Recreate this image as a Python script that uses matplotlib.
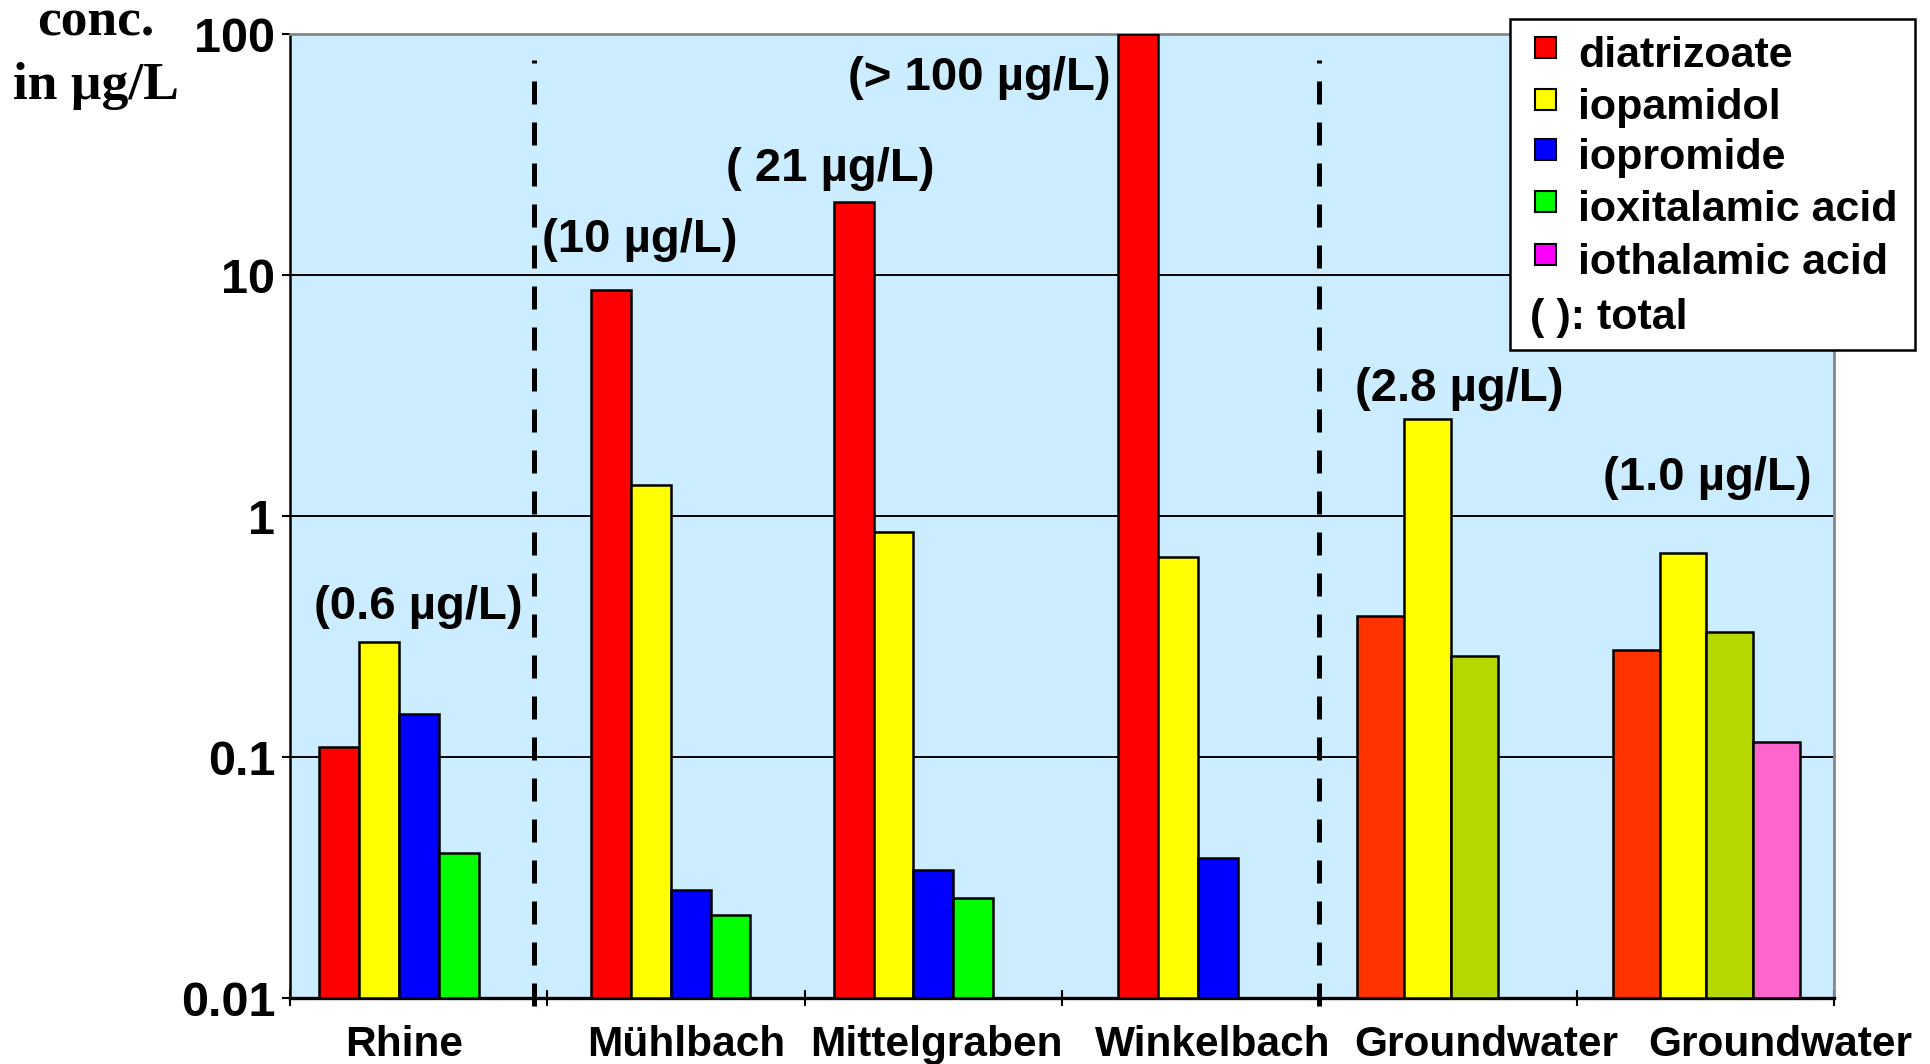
import numpy as np
import matplotlib
matplotlib.use("Agg")
import matplotlib.pyplot as plt
from matplotlib.patches import Rectangle

# Stellen (Kategorien) und Messwerte in µg/L, je Verbindung eine Liste
sites = ["Rhine", "Mühlbach", "Mittelgraben", "Winkelbach", "Groundwater", "Groundwater"]
compounds = ["diatrizoate", "iopamidol", "iopromide", "ioxitalamic acid", "iothalamic acid"]
diatrizoate = [0.11, 8.7, 20.0, 100.0, 0.385, 0.277]
iopamidol = [0.30, 1.35, 0.857, 0.678, 2.53, 0.70]
iopromide = [0.151, 0.028, 0.034, 0.038, np.nan, np.nan]
ioxitalamic = [0.040, 0.0221, 0.0261, np.nan, 0.262, 0.330]
iothalamic = [np.nan, np.nan, np.nan, np.nan, np.nan, 0.1156]
totals = ["(0.6 µg/L)", "(10 µg/L)", "( 21 µg/L)", "(> 100 µg/L)", "(2.8 µg/L)", "(1.0 µg/L)"]
is_groundwater = [False, False, False, False, True, True]

# Farben
surface_colors = ["#FF0000", "#FFFF00", "#0000FF", "#00FF00", "#FF00FF"]
ground_colors = ["#FF3300", "#FFFF00", "#0000FF", "#B5D900", "#FF66CC"]
BG = "#CCECFF"

# Layout (in Kategorie-Einheiten): Startversatz und Balkenbreite je Gruppe
group_offset = [0.113, 0.171, 0.113, 0.218, 0.146, 0.140]
group_width = [0.1555, 0.1545, 0.1545, 0.1555, 0.183, 0.182]
label_shift = [-0.057, 0.04, 0.01, 0.085, 0.15, 0.29]
total_pos = [(0.499, 0.419), (1.36, 13.97), (2.10, 27.5), (2.68, 66.0), (4.544, 3.37), (5.507, 1.44)]

BOLD = dict(family="Liberation Sans", fontweight="bold")

fig = plt.figure(figsize=(19.3, 10.64), dpi=100)
ax = fig.add_axes([0.1503, 0.062, 0.800, 0.906])
ax.set_facecolor(BG)
ax.set_yscale("log")
ax.set_ylim(0.01, 100)
ax.set_xlim(0, len(sites))

series = [diatrizoate, iopamidol, iopromide, ioxitalamic, iothalamic]

# Balken zeichnen, vorhandene Werte werden lückenlos nebeneinander gesetzt
for i in range(len(sites)):
    cols = ground_colors if is_groundwater[i] else surface_colors
    slot = 0
    for j, s in enumerate(series):
        v = s[i]
        if np.isnan(v):
            continue
        x = i + group_offset[i] + slot * group_width[i]
        ax.bar(x, v - 0.01, bottom=0.01, width=group_width[i], align="edge",
               color=cols[j], edgecolor="black", linewidth=1.8, zorder=3)
        slot += 1

# Gitterlinien
for g in [0.1, 1, 10]:
    ax.axhline(g, color="black", linewidth=1.4, zorder=1)

# gestrichelte Trennlinien
for xd in [0.948, 4.0]:
    ax.plot([xd, xd], [0.0093, 78], color="black", linewidth=3.6,
            dashes=(4.6, 3.6), zorder=4, clip_on=False)

# Achsen
ax.spines["left"].set_linewidth(1.8)
ax.spines["bottom"].set_linewidth(2.4)
ax.spines["top"].set_color("#888888")
ax.spines["right"].set_color("#888888")
ax.spines["top"].set_linewidth(2.0)
ax.spines["right"].set_linewidth(2.0)

ax.set_yticks([0.01, 0.1, 1, 10, 100])
ax.set_yticklabels(["0.01", "0.1", "1", "10", "100"])
ax.yaxis.set_minor_locator(matplotlib.ticker.NullLocator())
ax.tick_params(axis="y", length=6, width=1.5, pad=4.5, labelsize=35)
for t in ax.get_yticklabels():
    t.set_family("Liberation Sans")
    t.set_fontweight("bold")

ax.set_xticks(range(len(sites) + 1))
ax.set_xticklabels([])
ax.tick_params(axis="x", direction="inout", length=12, width=1.5)

# Kategoriebeschriftungen
for i, name in enumerate(sites):
    ax.text(i + 0.5 + label_shift[i], -0.049, name, transform=ax.get_xaxis_transform(),
            ha="center", va="center", fontsize=30.5, clip_on=False, **BOLD)

# Summenangaben
for (tx, ty), lab in zip(total_pos, totals):
    ax.text(tx, ty, lab, ha="center", va="center", fontsize=34, zorder=5, **BOLD)

# y-Achsentitel oben links
fig.text(0.0497, 1 - 22 / 1064, "conc.", ha="center", va="center", fontsize=38.5,
         family="Liberation Serif", fontweight="bold")
fig.text(0.0497, 1 - 86 / 1064, "in µg/L", ha="center", va="center", fontsize=38.5,
         family="Liberation Serif", fontweight="bold")

# Legende (manuell)
W, H = 1930.0, 1064.0
lx0, lx1, ly0, ly1 = 1510, 1915, 19, 350
fig.patches.append(Rectangle((lx0 / W, 1 - ly1 / H), (lx1 - lx0) / W, (ly1 - ly0) / H,
                             transform=fig.transFigure, facecolor="white",
                             edgecolor="black", linewidth=1.8, zorder=10))
rows_y = [56, 108, 158, 210, 263]
for name, col, yy in zip(compounds, surface_colors, rows_y):
    fig.patches.append(Rectangle((1535 / W, 1 - (yy + 2) / H), 21 / W, 21 / H,
                                 transform=fig.transFigure, facecolor=col,
                                 edgecolor="black", linewidth=1.5, zorder=11))
    fig.text(1578 / W, 1 - yy / H, name, ha="left", va="center", fontsize=31,
             zorder=12, **BOLD)
fig.text(1530 / W, 1 - 318 / H, "( ): total", ha="left", va="center", fontsize=31,
         zorder=12, **BOLD)

fig.savefig("out.png", dpi=100)
